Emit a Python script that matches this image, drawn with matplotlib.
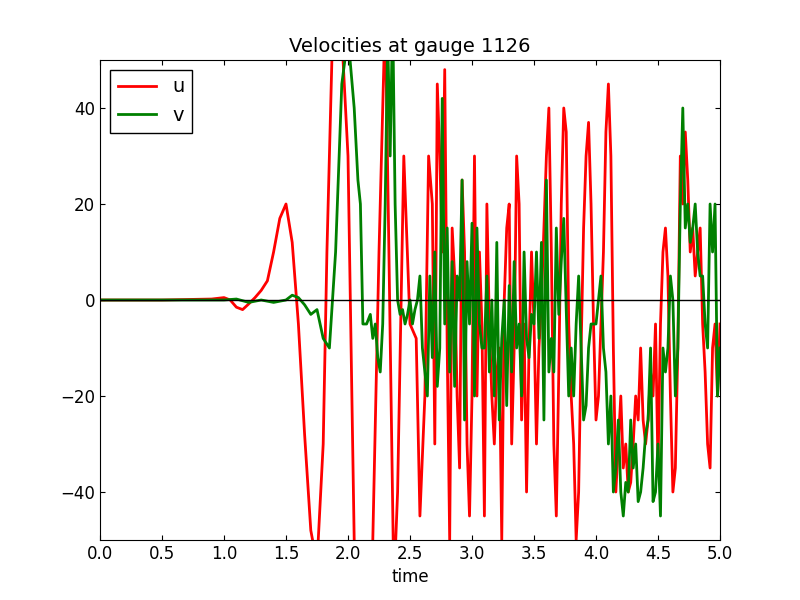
import matplotlib
matplotlib.use("Agg")
import matplotlib.pyplot as plt
import numpy as np

u_time = [0.0,0.5,0.9,1.0,1.05,1.1,1.15,1.2,1.25,1.3,1.35,1.4,1.45,1.5,1.55,1.6,1.65,1.7,1.75,1.8,1.83,1.87,1.92,2.0,2.05,2.1,2.15,2.2,2.25,2.3,2.33,2.37,2.4,2.45,2.5,2.55,2.58,2.62,2.65,2.68,2.7,2.72,2.74,2.76,2.78,2.8,2.82,2.84,2.86,2.88,2.9,2.92,2.94,2.96,2.98,3.0,3.02,3.04,3.06,3.08,3.1,3.12,3.14,3.16,3.18,3.2,3.22,3.24,3.26,3.28,3.3,3.32,3.34,3.36,3.38,3.4,3.42,3.44,3.46,3.48,3.5,3.52,3.54,3.56,3.58,3.6,3.62,3.64,3.66,3.68,3.7,3.72,3.74,3.76,3.78,3.8,3.82,3.84,3.86,3.88,3.9,3.92,3.94,3.96,3.98,4.0,4.02,4.04,4.06,4.08,4.1,4.12,4.14,4.16,4.18,4.2,4.22,4.24,4.26,4.28,4.3,4.32,4.34,4.36,4.38,4.4,4.42,4.44,4.46,4.48,4.5,4.52,4.54,4.56,4.58,4.6,4.62,4.64,4.66,4.68,4.7,4.72,4.74,4.76,4.78,4.8,4.82,4.84,4.86,4.88,4.9,4.92,4.94,4.96,4.98,5.0]
u_vals = [0.0,0.0,0.2,0.5,0.0,-1.5,-2.0,-0.8,0.5,2.0,4.0,10.0,17.0,20.0,12.0,-5.0,-28.0,-48.0,-55.0,-30.0,10.0,50.0,70.0,30.0,-50.0,-80.0,-70.0,-50.0,10.0,60.0,10.0,-60.0,-40.0,30.0,-5.0,-8.0,-45.0,-20.0,30.0,20.0,-30.0,45.0,30.0,10.0,48.0,-10.0,-50.0,15.0,5.0,-20.0,-35.0,25.0,10.0,-30.0,-45.0,-20.0,30.0,-20.0,10.0,-5.0,-45.0,20.0,-5.0,-20.0,-30.0,-15.0,-10.0,-50.0,0.0,15.0,20.0,-30.0,-10.0,30.0,20.0,-25.0,-5.0,-40.0,-10.0,10.0,-5.0,-30.0,-10.0,0.0,15.0,30.0,40.0,10.0,-30.0,-45.0,-15.0,20.0,40.0,35.0,-5.0,-20.0,-30.0,-50.0,-40.0,-10.0,15.0,30.0,37.0,20.0,-5.0,-25.0,-20.0,-5.0,10.0,35.0,45.0,30.0,-10.0,-40.0,-30.0,-20.0,-35.0,-30.0,-40.0,-38.0,-30.0,-20.0,-25.0,-10.0,-25.0,-30.0,-25.0,-15.0,-20.0,-5.0,-35.0,-5.0,10.0,15.0,5.0,-20.0,-40.0,-35.0,-10.0,30.0,20.0,35.0,25.0,10.0,15.0,5.0,10.0,15.0,-5.0,-15.0,-30.0,-35.0,-10.0,-5.0,-20.0,-5.0]
v_time = [0.0,0.5,1.0,1.1,1.2,1.3,1.4,1.5,1.55,1.6,1.65,1.7,1.75,1.8,1.85,1.9,1.95,2.0,2.05,2.08,2.1,2.12,2.15,2.18,2.2,2.22,2.24,2.26,2.28,2.3,2.32,2.34,2.36,2.38,2.4,2.42,2.44,2.46,2.48,2.5,2.52,2.54,2.56,2.58,2.6,2.62,2.64,2.66,2.68,2.7,2.72,2.74,2.76,2.78,2.8,2.82,2.84,2.86,2.88,2.9,2.92,2.94,2.96,2.98,3.0,3.02,3.04,3.06,3.08,3.1,3.12,3.14,3.16,3.18,3.2,3.22,3.24,3.26,3.28,3.3,3.32,3.34,3.36,3.38,3.4,3.42,3.44,3.46,3.48,3.5,3.52,3.54,3.56,3.58,3.6,3.62,3.64,3.66,3.68,3.7,3.72,3.74,3.76,3.78,3.8,3.82,3.84,3.86,3.88,3.9,3.92,3.94,3.96,3.98,4.0,4.02,4.04,4.06,4.08,4.1,4.12,4.14,4.16,4.18,4.2,4.22,4.24,4.26,4.28,4.3,4.32,4.34,4.36,4.38,4.4,4.42,4.44,4.46,4.48,4.5,4.52,4.54,4.56,4.58,4.6,4.62,4.64,4.66,4.68,4.7,4.72,4.74,4.76,4.78,4.8,4.82,4.84,4.86,4.88,4.9,4.92,4.94,4.96,4.98,5.0]
v_vals = [0.0,0.0,0.0,0.2,-0.5,0.0,-0.5,0.0,1.0,0.5,-1.0,-3.0,-2.0,-8.0,-10.0,10.0,45.0,55.0,40.0,25.0,20.0,-5.0,-5.0,-3.0,-8.0,-5.0,-12.0,-15.0,-5.0,20.0,55.0,30.0,60.0,20.0,0.0,-3.0,-2.0,-5.0,-3.0,0.0,-5.0,-2.0,0.0,5.0,-10.0,-15.0,-20.0,5.0,-12.0,10.0,-18.0,-10.0,42.0,-5.0,15.0,-15.0,8.0,-18.0,5.0,0.0,25.0,-25.0,8.0,-5.0,16.0,-20.0,15.0,-5.0,-10.0,-10.0,5.0,-15.0,0.0,-20.0,12.0,-25.0,-8.0,0.0,-22.0,3.0,-15.0,8.0,-10.0,-5.0,-20.0,10.0,-8.0,-12.0,-3.0,-5.0,10.0,-8.0,12.0,-25.0,25.0,-15.0,-8.0,-15.0,15.0,-3.0,8.0,17.0,-2.0,-20.0,-10.0,-20.0,-5.0,5.0,-10.0,-25.0,-22.0,-10.0,-5.0,-5.0,-5.0,0.0,5.0,-10.0,-15.0,-30.0,-20.0,-40.0,-35.0,-25.0,-40.0,-45.0,-38.0,-40.0,-25.0,-35.0,-30.0,-42.0,-40.0,-35.0,-28.0,-25.0,-10.0,-42.0,-40.0,-30.0,-45.0,-10.0,-15.0,-10.0,5.0,0.0,-20.0,-10.0,20.0,40.0,15.0,20.0,12.0,15.0,20.0,10.0,5.0,5.0,-5.0,-10.0,20.0,10.0,20.0,-20.0,-10.0]

fig, ax = plt.subplots(figsize=(8, 6), dpi=100)
ax.plot(u_time, u_vals, color='red', lw=2, label='u')
ax.plot(v_time, v_vals, color='green', lw=2, label='v')
ax.axhline(0, color='black', lw=1)
ax.set_xlim(0, 5)
ax.set_ylim(-50, 50)
ax.set_xticks(np.arange(0, 5.01, 0.5))
ax.set_yticks([-40, -20, 0, 20, 40])
ax.set_yticklabels(['\u221240', '\u221220', '0', '20', '40'])
ax.tick_params(direction='in', top=True, right=True, labelsize=12)
ax.set_xlabel('time', fontsize=12)
ax.set_title('Velocities at gauge 1126', fontsize=14)
leg = ax.legend(loc='upper left', fontsize=14, fancybox=False, framealpha=1, handlelength=2)
leg.get_frame().set_edgecolor('black')
fig.subplots_adjust(left=0.125, right=0.9, top=0.9, bottom=0.1)
fig.savefig('out.png')
